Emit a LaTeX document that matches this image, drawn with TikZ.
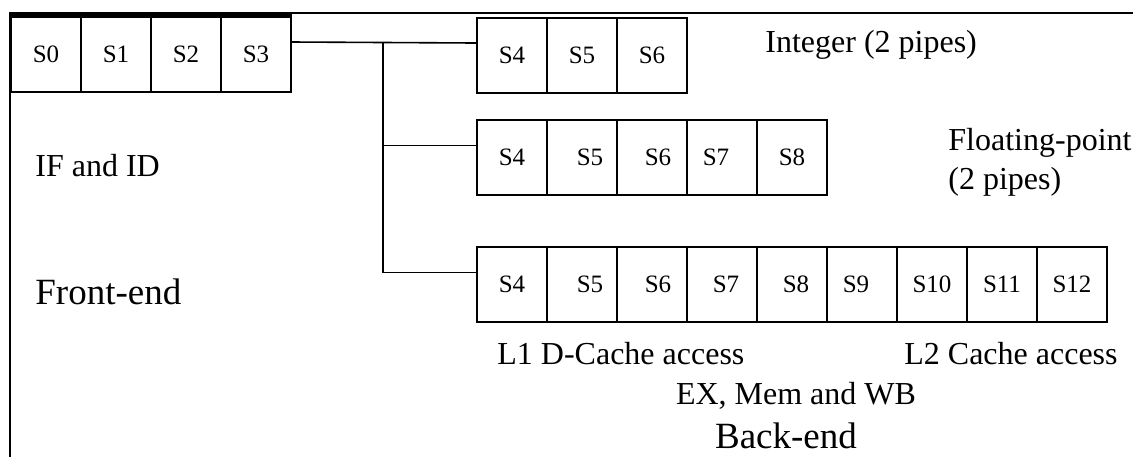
\documentclass[tikz,border=0pt]{standalone}
\usepackage{fontspec}
\setmainfont{Liberation Serif}

\tikzset{
  stage/.style={draw, line width=1pt, minimum width=35pt, minimum height=37.5pt, inner sep=0pt, font=\fontsize{12.5}{15}\selectfont},
  label/.style={inner sep=0pt, font=\fontsize{16}{19.5}\selectfont},
  biglabel/.style={inner sep=0pt, font=\fontsize{18.5}{22}\selectfont}
}

\begin{document}
\begin{tikzpicture}[x=0.5pt, y=-0.5pt]

\useasboundingbox (0,0) rectangle (1141,457);

% frame
\draw[line width=0.8pt] (10,457) -- (10,13) -- (1133,13);

% front-end
\node[stage] (S0) at (46,54) {S0};
\node[stage] (S1) at (116,54) {S1};
\node[stage] (S2) at (186,54) {S2};
\node[stage] (S3) at (256,54) {S3};
\draw[line width=1.4pt] (S0.south west) -- (S0.north west) -- (S3.north east);

\node[label, anchor=west] (ifid) at (35,166) {IF and ID};
\node[biglabel, anchor=west] (front) at (35,292) {Front-end};

% integer pipes
\node[stage] (I4) at (512,55) {S4};
\node[stage] (I5) at (582,55) {S5};
\node[stage] (I6) at (652,55) {S6};

\node[label, anchor=west] (int) at (765,45) {Integer (2 pipes)};

% floating-point pipes
\node[stage] (F4) at (512,157.5) {S4};
\node[stage] (F5) at (582,157.5) {\hspace{8pt}S5};
\node[stage] (F6) at (652,157.5) {\hspace{6pt}S6};
\node[stage] (F7) at (722,157.5) {\hspace{-6pt}S7};
\node[stage] (F8) at (792,157.5) {S8};

\node[label, anchor=west, align=left] (fp) at (948,162) {Floating-point\\(2 pipes)};

% load/store pipe
\node[stage] (B4) at (512,284.5) {S4};
\node[stage] (B5) at (582,284.5) {\hspace{8pt}S5};
\node[stage] (B6) at (652,284.5) {\hspace{6pt}S6};
\node[stage] (B7) at (722,284.5) {\hspace{4pt}S7};
\node[stage] (B8) at (792,284.5) {\hspace{4pt}S8};
\node[stage] (B9) at (862,284.5) {\hspace{-6pt}S9};
\node[stage] (B10) at (932,284.5) {S10};
\node[stage] (B11) at (1002,284.5) {S11};
\node[stage] (B12) at (1072,284.5) {S12};

\node[label, anchor=west] (l1) at (497,354) {L1 D-Cache access};
\node[label, anchor=east] (l2) at (1118,354) {L2 Cache access};
\node[label] (exmem) at (796,396) {EX, Mem and WB};
\node[biglabel] (back) at (786,436) {Back-end};

% connections
\coordinate (split) at (383,43);
\draw[line width=0.8pt] ([yshift=6pt]S3.east) -- ([yshift=6pt]I4.west);
\draw[line width=0.8pt] (split) |- ([yshift=6pt]F4.west);
\draw[line width=0.8pt] (split) |- ([yshift=6pt]B4.west);

\end{tikzpicture}
\end{document}
